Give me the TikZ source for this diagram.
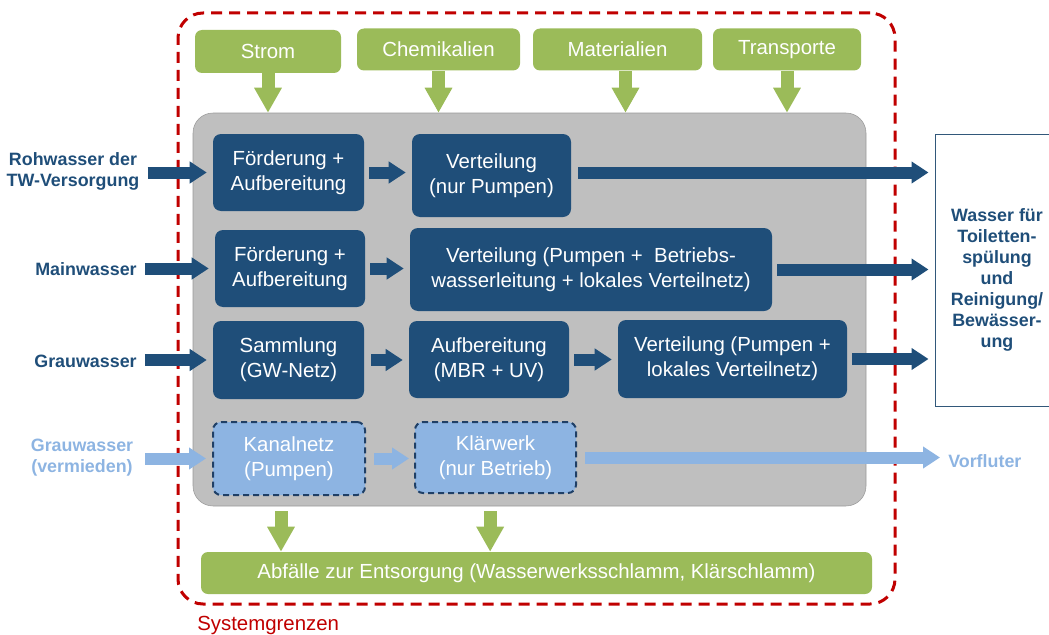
\documentclass[tikz,border=0pt]{standalone}
\usepackage{fontspec}
\setmainfont{Liberation Sans}
\usepackage{xcolor}
\usepackage{tikz}
\usetikzlibrary{arrows.meta,positioning}

\definecolor{wblue}{HTML}{1F4E79}
\definecolor{lblue}{HTML}{8DB4E2}
\definecolor{dblue}{HTML}{1F3F66}
\definecolor{wgreen}{HTML}{9BBB59}
\definecolor{wgrey}{HTML}{BFBFBF}
\definecolor{wred}{HTML}{C00000}

\newlength{\px}
\setlength{\px}{0.75pt}

\tikzset{
  wbox/.style={rounded corners=8\px, align=center, text=white, inner sep=0pt,
               font=\fontsize{15.3}{18.6}\selectfont},
  procbox/.style={wbox, fill=wblue},
  dashbox/.style={wbox, fill=lblue, draw=dblue, line width=2\px,
                  dash pattern=on 6\px off 4\px},
  inbox/.style={wbox, fill=wgreen, rounded corners=7\px},
  lbl/.style={align=center, text=wblue, inner sep=0pt,
              font=\fontsize{13.4}{15.75}\selectfont\bfseries},
  flow/.style={draw=wblue, line width=12\px, shorten <=5\px, shorten >=6\px,
               -{Triangle[length=12.75pt,width=15.75pt]}},
  lflow/.style={flow, draw=lblue},
  gflow/.style={draw=wgreen, line width=13\px,
                -{Triangle[length=18.75pt,width=19.5pt]}},
}

\begin{document}
\begin{tikzpicture}[x=0.75pt,y=-0.75pt]
  \useasboundingbox (0,0) rectangle (1049,635);

  % boundaries
  \node[draw=wred, line width=3\px, dash pattern=on 11\px off 7\px,
        rounded corners=25\px, minimum width=717\px, minimum height=591\px]
        (grenze) at (536.5,308.5) {};
  \node[fill=wgrey, draw=gray!80, rounded corners=20\px,
        minimum width=673\px, minimum height=393\px] (kern) at (529.5,309.5) {};
  \node[anchor=west, text=wred, inner sep=0pt,
        font=\fontsize{15.3}{18}\selectfont] (sysg) at (197,625) {Systemgrenzen};

  % inputs
  \node[inbox, minimum width=146\px, minimum height=43\px] (strom) at (268,51.5) {Strom};
  \node[inbox, minimum width=163\px, minimum height=42\px] (chem) at (438.5,49.5) {Chemikalien};
  \node[inbox, minimum width=169\px, minimum height=42\px] (mat) at (617.5,49.5) {Materialien};
  \node[inbox, minimum width=148\px, minimum height=42\px] (trans) at (787,49.5) {Transporte};

  \draw[gflow] (strom.south) -- (strom.south |- kern.north);
  \draw[gflow] (chem.south) -- (chem.south |- kern.north);
  \draw[gflow] ([xshift=6pt]mat.south) -- ([xshift=6pt]mat.south |- kern.north);
  \draw[gflow] (trans.south) -- (trans.south |- kern.north);

  % sources
  \node[lbl] (roh) at (73,171) {Rohwasser der\\TW-Versorgung};
  \node[lbl] (main) at (86,269) {Mainwasser};
  \node[lbl] (grau) at (85.5,361) {Grauwasser};
  \node[lbl, text=lblue] (grauv) at (82,458) {Grauwasser\\(vermieden)};

  % row 1
  \node[procbox, minimum width=151\px, minimum height=77\px] (f1) at (288.5,172.5) {Förderung +\\Aufbereitung};
  \node[procbox, minimum width=159\px, minimum height=83\px] (v1) at (491.5,175.5) {Verteilung\\(nur Pumpen)};

  % row 2
  \node[procbox, minimum width=150\px, minimum height=77\px] (f2) at (290,268.5) {Förderung +\\Aufbereitung};
  \node[procbox, minimum width=362\px, minimum height=83\px] (v2) at (591,269.5)
       {Verteilung (Pumpen +\ \ Betriebs-\\wasserleitung + lokales Verteilnetz)};

  % row 3
  \node[procbox, minimum width=151\px, minimum height=78\px] (s3) at (288.5,360) {Sammlung\\(GW-Netz)};
  \node[procbox, minimum width=160\px, minimum height=77\px] (a3) at (489,359.5) {Aufbereitung\\(MBR + UV)};
  \node[procbox, minimum width=229\px, minimum height=78\px] (v3) at (732.5,359) {Verteilung (Pumpen +\\lokales Verteilnetz)};

  % row 4
  \node[dashbox, minimum width=152\px, minimum height=73\px] (k4) at (289,458.5) {Kanalnetz\\(Pumpen)};
  \node[dashbox, minimum width=161\px, minimum height=71\px] (kw4) at (495.5,457.5) {Klärwerk\\(nur Betrieb)};

  % sinks
  \node[draw=wblue!80!gray, fill=white, line width=1\px,
        minimum width=127\px, minimum height=272\px] (ziel) at (998.5,270) {};
  \node[lbl] (zieltxt) at (997,280) {Wasser für\\Toiletten-\\spülung\\und\\Reinigung/\\Bewässer-\\ung};
  \node[lbl, text=lblue, anchor=west] (vorf) at (948,461) {Vorfluter};
  \node[inbox, minimum width=671\px, minimum height=42\px] (abf) at (536.5,573)
       {Abfälle zur Entsorgung (Wasserwerksschlamm, Klärschlamm)};

  \draw[flow, shorten <=8\px] (f1.west -| roh.east) -- (f1.west);
  \draw[flow, shorten <=8\px] (f2.west -| main.east) -- (f2.west);
  \draw[flow, shorten <=8\px] (s3.west -| grau.east) -- (s3.west);
  \draw[lflow, shorten <=12\px] (k4.west -| grauv.east) -- (k4.west);

  \draw[flow] (f1.east) -- (v1.west |- f1.east);
  \draw[flow, shorten <=7\px] (v1.east |- f1.east) -- (ziel.west |- f1.east);
  \draw[flow] (f2.east) -- (v2.west |- f2.east);
  \draw[flow] (v2.east) -- (ziel.west |- v2.east);
  \draw[flow, shorten <=7\px] (s3.east) -- (a3.west |- s3.east);
  \draw[flow] (a3.east) -- (v3.west |- a3.east);
  \draw[flow] (v3.east) -- (ziel.west |- v3.east);
  \draw[lflow, shorten <=8\px, shorten >=5\px] (k4.east) -- (kw4.west |- k4.east);
  \draw[lflow, shorten <=8\px, shorten >=8\px] (kw4.east) -- (vorf.west |- kw4.east);

  % waste
  \draw[gflow, shorten <=5\px] ([xshift=-6pt]k4.south |- kern.south) -- ([xshift=-6pt]k4.south |- abf.north);
  \draw[gflow, shorten <=5\px] ([xshift=-4pt]kw4.south |- kern.south) -- ([xshift=-4pt]kw4.south |- abf.north);

\end{tikzpicture}
\end{document}
